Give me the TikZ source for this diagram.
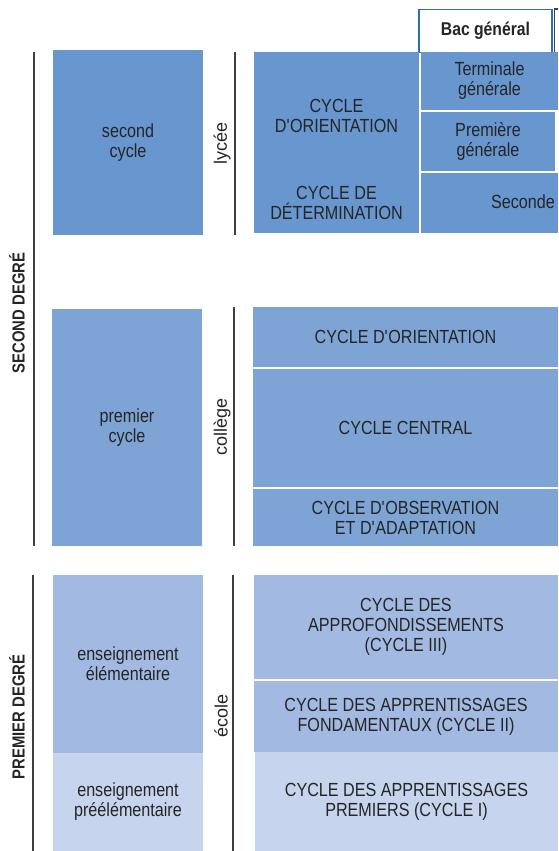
\documentclass[tikz,border=0pt]{standalone}
\usepackage{fontspec}
\setmainfont{Liberation Sans}[FakeStretch=0.85]
\newfontfamily\levelfont{Liberation Sans}

\definecolor{lyceeblue}{HTML}{6896CE}
\definecolor{collegeblue}{HTML}{7EA4D6}
\definecolor{ecoleblue}{HTML}{A2BAE2}
\definecolor{maternelleblue}{HTML}{C6D4ED}
\definecolor{inkgray}{HTML}{252525}
\definecolor{bargray}{HTML}{404040}
\definecolor{bacblue}{HTML}{2F6DB5}

\tikzset{
  cell/.style={inner sep=0pt, outer sep=0pt, align=center, text=inkgray,
    font=\fontsize{19}{20}\selectfont},
  degree/.style={rotate=90, inner sep=0pt, text=inkgray,
    font=\bfseries\fontsize{17.5}{20}\selectfont},
  level/.style={rotate=90, inner sep=0pt, text=inkgray,
    font=\levelfont\fontsize{18}{20}\selectfont},
  bar/.style={draw=bargray, line width=2pt}
}

\begin{document}
\begin{tikzpicture}[x=1pt,y=-1pt]
\useasboundingbox (0,0) rectangle (558,851);
\clip (0,0) rectangle (558,851);

% bac
\node[cell, fill=white, draw=bacblue, line width=1.5pt, minimum width=133pt, minimum height=43pt,
  font=\bfseries\fontsize{18.5}{20}\selectfont] (bac) at (485.5,31) {Bac général};
\draw[draw=bargray, line width=1.2pt] (554.5,9) rectangle (580,60);

% second degre
\coordinate (sdTop) at (34,52);
\coordinate (sdBot) at (34,546);
\draw[bar] (sdTop) -- (sdBot);
\node[degree] (secdeg) at (17,313) {SECOND DEGRÉ};

\node[cell, fill=lyceeblue, minimum width=150pt, minimum height=185pt] (scnd) at (128,142.5) {second\\cycle};
\node[cell, fill=collegeblue, minimum width=150pt, minimum height=237pt] (prem) at (127,427.5) {premier\\cycle};

% lycee
\coordinate (lyTop) at (235,52);
\coordinate (lyBot) at (235,235);
\draw[bar] (lyTop) -- (lyBot);
\node[level] (lycee) at (222,143) {lycée};

\node[cell, fill=lyceeblue, minimum width=165pt, minimum height=181pt] (lycA) at (336.5,142.5) {};
\node[cell] (orient) at (336.5,116) {CYCLE\\D\textquotesingle ORIENTATION};
\node[cell] (determ) at (336.5,203) {CYCLE DE\\DÉTERMINATION};

\node[cell, fill=lyceeblue, minimum width=137pt, minimum height=58pt] (term) at (489.5,81) {Terminale\\générale};
\node[cell, fill=lyceeblue, minimum width=134pt, minimum height=59pt] (prem1) at (488,141.5) {Première\\générale};
\node[cell, fill=lyceeblue, minimum width=137pt, minimum height=60pt] (sec) at (489.5,203) {};
\node[cell, anchor=west] (seclab) at (491,202) {Seconde};

% college
\coordinate (coTop) at (234,307);
\coordinate (coBot) at (234,546);
\draw[bar] (coTop) -- (coBot);
\node[level] (college) at (222,427) {collège};

\node[cell, fill=collegeblue, minimum width=305pt, minimum height=60pt] (coOr) at (405.5,337) {CYCLE D\textquotesingle ORIENTATION};
\node[cell, fill=collegeblue, minimum width=305pt, minimum height=118pt] (coCe) at (405.5,428) {CYCLE CENTRAL};
\node[cell, fill=collegeblue, minimum width=305pt, minimum height=57pt] (coOb) at (405.5,517.5) {CYCLE D\textquotesingle OBSERVATION\\ET D\textquotesingle ADAPTATION};

% premier degre
\coordinate (pdTop) at (33,575);
\coordinate (pdBot) at (33,851);
\draw[bar] (pdTop) -- (pdBot);
\node[degree] (premdeg) at (17,717) {PREMIER DEGRÉ};

\node[cell, fill=ecoleblue, minimum width=150pt, minimum height=178pt] (elem) at (128,664) {enseignement\\élémentaire};
\node[cell, fill=maternelleblue, minimum width=150pt, minimum height=98pt] (preel) at (128,802) {enseignement\\préélémentaire};

% ecole
\coordinate (ecTop) at (233,575);
\coordinate (ecBot) at (233,851);
\draw[bar] (ecTop) -- (ecBot);
\node[level] (ecole) at (221,716) {école};

\node[cell, fill=ecoleblue, minimum width=304pt, minimum height=104pt] (cyc3) at (406,627) {CYCLE DES\\APPROFONDISSEMENTS\\(CYCLE III)};
\node[cell, fill=ecoleblue, minimum width=304pt, minimum height=71pt] (cyc2) at (406,716.5) {CYCLE DES APPRENTISSAGES\\FONDAMENTAUX (CYCLE II)};
\node[cell, fill=maternelleblue, minimum width=303pt, minimum height=99pt] (cyc1) at (406.5,801.5) {CYCLE DES APPRENTISSAGES\\PREMIERS (CYCLE I)};

\end{tikzpicture}
\end{document}
